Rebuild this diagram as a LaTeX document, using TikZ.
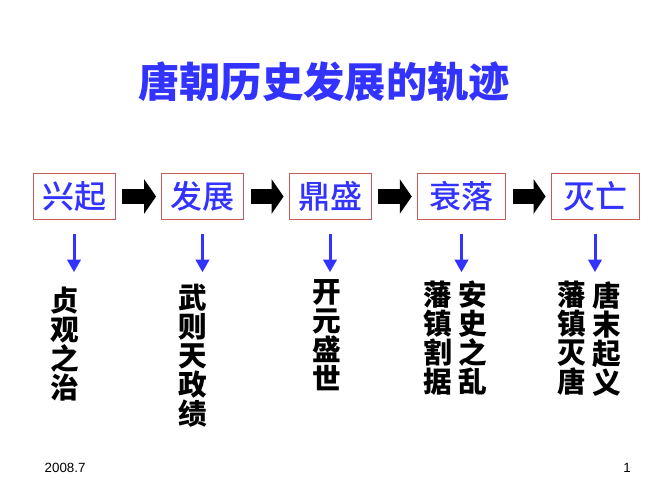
\documentclass[tikz,border=0pt]{standalone}
\usepackage{fontspec}
\setmainfont{Liberation Sans}
\newfontfamily\cjk{Noto Sans CJK SC}
\newfontfamily\cjkmid{Noto Sans CJK SC Medium}
\usetikzlibrary{arrows.meta}
\definecolor{stageblue}{RGB}{51,51,255}
\definecolor{stagered}{RGB}{200,90,90}
\tikzset{
  stage/.style={draw=stagered, line width=0.6pt, minimum height=35pt, minimum width=61.5pt,
    inner sep=0pt, text=stageblue, font=\cjkmid\fontsize{24}{24}\selectfont},
  pushon/.style={line width=11.25pt, -{Triangle[length=9pt,width=25.5pt]},
    shorten <=5.25pt, shorten >=3.75pt},
  godown/.style={stageblue, line width=2.25pt, -{Triangle[length=9.5pt,width=10pt]}, shorten <=10.5pt},
  vtext/.style={anchor=north, align=center, inner sep=0pt,
    font=\cjk\bfseries\fontsize{21.5}{21.75}\selectfont}
}

\begin{document}
\begin{tikzpicture}[x=0.75pt,y=-0.75pt]
  \useasboundingbox (0,0) rectangle (667,500);
  %%%%% title %%%%%
  \node[text=stageblue, font=\cjk\bfseries\fontsize{31}{31}\selectfont] (title) at (324,82) {唐朝历史发展的轨迹};

  %%%%% stages %%%%%
  \node[stage] (b1) at (74,196.5) {兴起};
  \node[stage] (b2) at (202.5,196.5) {发展};
  \node[stage] (b3) at (330,196.5) {鼎盛};
  \node[stage, minimum width=66.5pt] (b4) at (461.5,196.5) {衰落};
  \node[stage, minimum width=66pt] (b5) at (595,196.5) {灭亡};

  \draw[pushon] (b1.east) -- (b2.west);
  \draw[pushon] (b2.east) -- (b3.west);
  \draw[pushon] (b3.east) -- (b4.west);
  \draw[pushon] (b4.east) -- (b5.west);

  \draw[godown] (b1.south) -- ++(0,52);
  \draw[godown] (b2.south) -- ++(0,52);
  \draw[godown] (b3.south) -- ++(0,52);
  \draw[godown] (b4.south) -- ++(0,52);
  \draw[godown] (b5.south) -- ++(0,52);

  %%%%% events %%%%%
  \node[vtext] (t1) at (65,287) {贞\\观\\之\\治};
  \node[vtext] (t2) at (193,284) {武\\则\\天\\政\\绩};
  \node[vtext] (t3) at (327,279) {开\\元\\盛\\世};
  \node[vtext] (t4a) at (438,281) {藩\\镇\\割\\据};
  \node[vtext] (t4b) at (473,281) {安\\史\\之\\乱};
  \node[vtext] (t5a) at (572,281) {藩\\镇\\灭\\唐};
  \node[vtext] (t5b) at (607,281) {唐\\末\\起\\义};

  %%%%% footer %%%%%
  \node[anchor=west, font=\fontsize{10}{12}\selectfont] (date) at (40,468) {2008.7};
  \node[font=\fontsize{10}{12}\selectfont] (page) at (627,468) {1};
\end{tikzpicture}
\end{document}
